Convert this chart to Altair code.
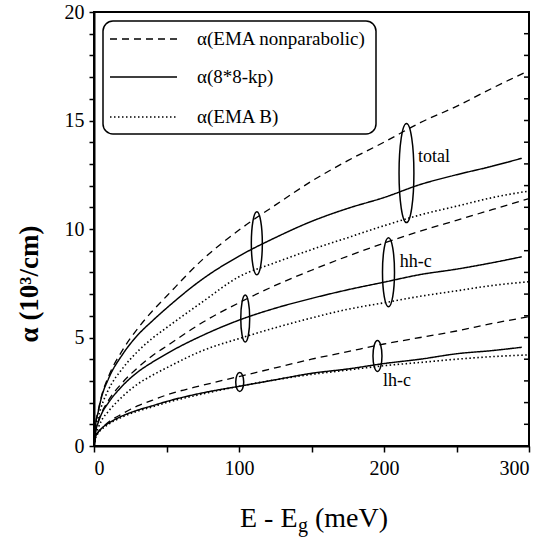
import altair as alt
import pandas as pd

# ---------------- data ----------------
X_GRID = [0, 1, 3, 5, 10, 20, 30, 40, 50, 75, 100, 125, 150, 175, 200, 225, 250, 275, 300]
X_SOLID = [0, 1, 3, 5, 10, 20, 30, 40, 50, 75, 100, 125, 150, 175, 200, 225, 250, 275, 295]

TOTAL_NP = [0, 0.9, 1.65, 2.25, 3.2, 4.45, 5.4, 6.2, 6.9, 8.6, 9.95, 11.1, 12.2, 13.15, 14.0, 14.9, 15.65, 16.5, 17.3]
TOTAL_KP = [0, 0.9, 1.6, 2.2, 3.1, 4.25, 5.1, 5.75, 6.35, 7.7, 8.75, 9.6, 10.35, 10.95, 11.45, 12.05, 12.5, 12.9, 13.26]
TOTAL_B = [0, 0.75, 1.35, 1.8, 2.6, 3.6, 4.35, 4.95, 5.45, 6.65, 7.8, 8.45, 9.05, 9.6, 10.15, 10.65, 11.05, 11.45, 11.75]

HH_NP = [0, 0.6, 1.15, 1.5, 2.1, 2.95, 3.6, 4.15, 4.6, 5.7, 6.6, 7.4, 8.1, 8.75, 9.35, 9.9, 10.4, 10.9, 11.4]
HH_KP = [0, 0.6, 1.1, 1.45, 2.0, 2.8, 3.4, 3.85, 4.25, 5.1, 5.8, 6.35, 6.8, 7.2, 7.55, 7.9, 8.15, 8.45, 8.72]
HH_B = [0, 0.45, 0.85, 1.15, 1.6, 2.3, 2.85, 3.25, 3.6, 4.4, 4.95, 5.45, 5.9, 6.3, 6.6, 6.9, 7.15, 7.4, 7.57]

LH_NP = [0, 0.35, 0.65, 0.8, 1.1, 1.5, 1.85, 2.1, 2.35, 2.8, 3.2, 3.6, 4.0, 4.35, 4.7, 5.0, 5.3, 5.65, 5.96]
LH_KP = [0, 0.4, 0.65, 0.8, 1.05, 1.4, 1.65, 1.85, 2.05, 2.45, 2.75, 3.05, 3.35, 3.55, 3.8, 4.0, 4.25, 4.4, 4.55]
LH_B = [0, 0.35, 0.6, 0.75, 1.0, 1.35, 1.6, 1.8, 2.0, 2.4, 2.75, 3.05, 3.3, 3.5, 3.7, 3.85, 4.0, 4.12, 4.2]

METHODS = ["α(EMA nonparabolic)", "α(8*8-kp)", "α(EMA B)"]

# annotation ellipses (centre in data units) and group labels
ELL_X = [112.3, 215.5, 104.3, 203.1, 100.5, 195.5]
ELL_Y = [9.34, 12.58, 5.88, 8.01, 2.95, 4.15]
LABEL_TEXT = ["total", "hh-c", "lh-c"]
LABEL_X = [223.4, 210.8, 199.3]
LABEL_Y = [13.1, 8.26, 2.76]

# ---------------- build table ----------------
series = [
    ("total", METHODS[0], X_GRID, TOTAL_NP),
    ("total", METHODS[1], X_SOLID, TOTAL_KP),
    ("total", METHODS[2], X_GRID, TOTAL_B),
    ("hh", METHODS[0], X_GRID, HH_NP),
    ("hh", METHODS[1], X_SOLID, HH_KP),
    ("hh", METHODS[2], X_GRID, HH_B),
    ("lh", METHODS[0], X_GRID, LH_NP),
    ("lh", METHODS[1], X_SOLID, LH_KP),
    ("lh", METHODS[2], X_GRID, LH_B),
]
rows = []
for grp, meth, xs, ys in series:
    for i, (xv, yv) in enumerate(zip(xs, ys)):
        rows.append({"x": xv, "y": yv, "series": grp + "|" + meth, "method": meth, "order": i})
df = pd.DataFrame(rows)

FONT = "Liberation Serif"
W, H = 435, 434
DASHES = [[7, 5], [1, 0], [1.5, 2.5]]
WIDTHS = [1.3, 1.6, 1.4]

xscale = alt.Scale(domain=[0, 300], nice=False, zero=False)
yscale = alt.Scale(domain=[0, 20], nice=False, zero=False)

xaxis = alt.Axis(values=list(range(0, 301, 50)),
                 labelExpr="datum.value % 100 == 0 ? datum.label : ''",
                 labelOverlap=False,
                 title=None, grid=False, tickSize=6, tickWidth=1.5, domainWidth=2,
                 domainColor="black", tickColor="black", labelColor="black",
                 labelFont=FONT, labelFontSize=20, labelPadding=6)
yaxis = alt.Axis(values=list(range(0, 21)),
                 labelExpr="datum.value % 5 == 0 ? datum.label : ''",
                 labelOverlap=False,
                 title=None, grid=False, tickSize=5, tickWidth=1.5, domainWidth=2,
                 domainColor="black", tickColor="black", labelColor="black",
                 labelFont=FONT, labelFontSize=20, labelPadding=5)

curves = alt.Chart(df).mark_line(interpolate="monotone", color="black").encode(
    x=alt.X("x:Q", scale=xscale, axis=xaxis),
    y=alt.Y("y:Q", scale=yscale, axis=yaxis),
    detail="series:N",
    order="order:Q",
    strokeDash=alt.StrokeDash("method:N", scale=alt.Scale(domain=METHODS, range=DASHES), legend=None),
    strokeWidth=alt.StrokeWidth("method:N", scale=alt.Scale(domain=METHODS, range=WIDTHS), legend=None),
)

# ellipses: custom symbol paths (aspect) and sizes (pixel height^2)
ELL_ASPECT = [0.175, 0.15, 0.19, 0.174, 0.42, 0.29]
ELL_HEIGHT = [63, 99, 47, 69, 19, 31]
ell_df = pd.DataFrame({
    "x": ELL_X, "y": ELL_Y,
    "shape": ["M0,-1A%.3f,1 0 1,1 0,1A%.3f,1 0 1,1 0,-1Z" % (a, a) for a in ELL_ASPECT],
    "size": [h * h for h in ELL_HEIGHT],
})
ellipses = alt.Chart(ell_df).mark_point(filled=False, color="black", strokeWidth=1.5, opacity=1).encode(
    x=alt.X("x:Q", scale=xscale, axis=xaxis),
    y=alt.Y("y:Q", scale=yscale, axis=yaxis),
    shape=alt.Shape("shape:N", scale=None),
    size=alt.Size("size:Q", scale=None),
)

lab_df = pd.DataFrame({"x": LABEL_X, "y": LABEL_Y, "t": LABEL_TEXT})
labels = alt.Chart(lab_df).mark_text(font=FONT, fontSize=18, align="left", baseline="alphabetic", color="black").encode(
    x=alt.X("x:Q", scale=xscale, axis=xaxis), y=alt.Y("y:Q", scale=yscale, axis=yaxis), text="t:N")

one = pd.DataFrame({"k": [0]})

# right-hand inward ticks
rt_df = pd.DataFrame({"v": list(range(0, 21))})
right_ticks = alt.Chart(rt_df).mark_rule(color="black", strokeWidth=1.5).encode(
    x=alt.value(W - 5), x2=alt.value(W), y=alt.Y("v:Q", scale=yscale, axis=yaxis))

# legend box
legend_layers = [
    alt.Chart(one).mark_rect(cornerRadius=10, fill="white", stroke="black", strokeWidth=1.5).encode(
        x=alt.value(9), x2=alt.value(282), y=alt.value(9), y2=alt.value(122))
]
LEG_Y = [27, 65, 105]
for i, m in enumerate(METHODS):
    legend_layers.append(
        alt.Chart(one).mark_rule(color="black", strokeDash=DASHES[i], strokeWidth=WIDTHS[i]).encode(
            x=alt.value(16), x2=alt.value(83), y=alt.value(LEG_Y[i])))
    legend_layers.append(
        alt.Chart(one).mark_text(text=m, font=FONT, fontSize=19, align="left", baseline="middle", color="black").encode(
            x=alt.value(103), y=alt.value(LEG_Y[i])))

# axis titles
ytitle = alt.Chart(one).mark_text(text="α (10³/cm)", font=FONT, fontSize=27, fontWeight="bold", angle=270,
                                  align="center", baseline="middle", color="black").encode(
    x=alt.value(-64), y=alt.value(272))
xt1 = alt.Chart(one).mark_text(text="E - E", font=FONT, fontSize=28, align="left", baseline="alphabetic", color="black").encode(
    x=alt.value(146), y=alt.value(515))
xt2 = alt.Chart(one).mark_text(text="g", font=FONT, fontSize=20, align="left", baseline="alphabetic", color="black").encode(
    x=alt.value(204), y=alt.value(520))
xt3 = alt.Chart(one).mark_text(text="(meV)", font=FONT, fontSize=28, align="left", baseline="alphabetic", color="black").encode(
    x=alt.value(221), y=alt.value(515))

chart = alt.layer(curves, ellipses, labels, right_ticks, *legend_layers, ytitle, xt1, xt2, xt3).properties(
    width=W, height=H,
    padding={"left": 94, "top": 12, "right": 18, "bottom": 92},
    autosize="none",
    background="white",
).configure_view(stroke="black", strokeWidth=2).configure_axis(labelOverlap=False)

chart.save("out.html", embed_options={"renderer": "svg", "actions": False})
